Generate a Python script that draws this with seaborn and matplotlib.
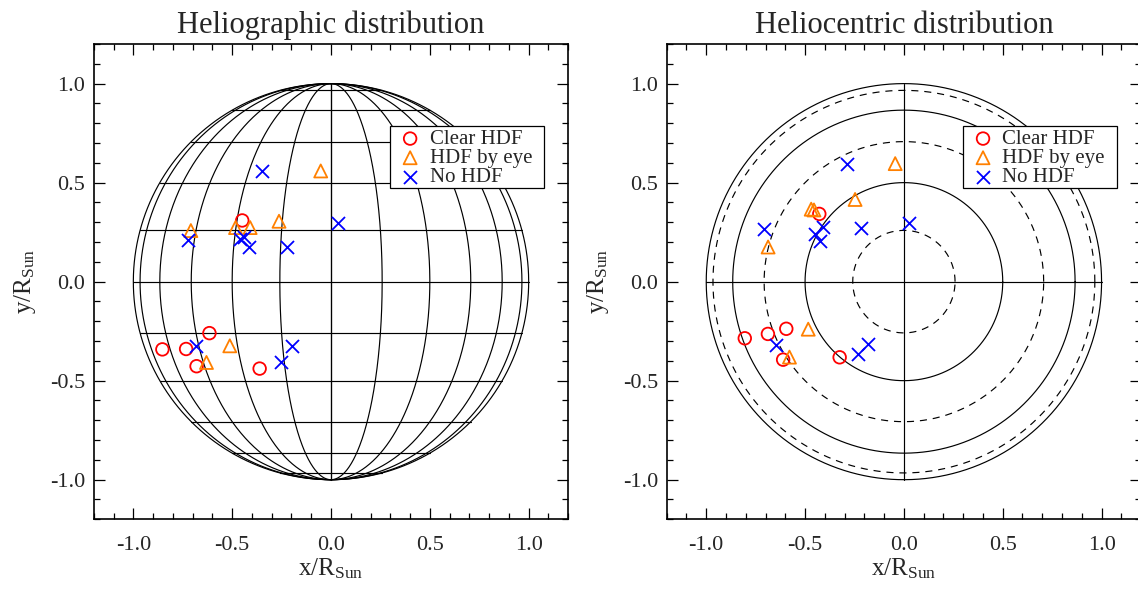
import numpy as np
import pandas as pd
import matplotlib
matplotlib.use("Agg")
import matplotlib.pyplot as plt
import seaborn as sns
from matplotlib.ticker import MultipleLocator
from matplotlib.patches import Rectangle

# ---------------- data ----------------
categories = ["Clear HDF", "HDF by eye", "No HDF"]

# Heliographic panel
hg_clear_x = [-0.853, -0.733, -0.615, -0.680, -0.361, -0.449]
hg_clear_y = [-0.342, -0.340, -0.260, -0.427, -0.439, 0.309]
hg_eye_x = [-0.052, -0.709, -0.483, -0.409, -0.263, -0.512, -0.630]
hg_eye_y = [0.559, 0.258, 0.273, 0.273, 0.305, -0.324, -0.408]
hg_no_x = [-0.350, 0.033, -0.724, -0.462, -0.438, -0.416, -0.221, -0.681, -0.195, -0.254]
hg_no_y = [0.559, 0.294, 0.210, 0.213, 0.225, 0.174, 0.176, -0.324, -0.324, -0.408]

# Heliocentric panel
hc_clear_x = [-0.805, -0.688, -0.595, -0.611, -0.325, -0.428]
hc_clear_y = [-0.286, -0.264, -0.238, -0.394, -0.382, 0.342]
hc_eye_x = [-0.044, -0.247, -0.469, -0.455, -0.687, -0.484, -0.579]
hc_eye_y = [0.596, 0.415, 0.366, 0.362, 0.175, -0.240, -0.381]
hc_no_x = [-0.287, 0.027, -0.709, -0.216, -0.411, -0.450, -0.423, -0.645, -0.183, -0.230]
hc_no_y = [0.596, 0.294, 0.268, 0.269, 0.276, 0.239, 0.203, -0.318, -0.316, -0.367]

titles = ["Heliographic distribution", "Heliocentric distribution"]
tick_values = [-1.0, -0.5, 0.0, 0.5, 1.0]
tick_labels = ["-1.0", "-0.5", "0.0", "0.5", "1.0"]
grid_angles_deg = [-90, -75, -60, -45, -30, -15, 0, 15, 30, 45, 60, 75, 90]
ring_angles_deg = [15, 30, 45, 60, 75, 90]

# ---------------- style ----------------
sns.set_theme(style="white")
plt.rcParams["font.family"] = ["Liberation Serif", "DejaVu Serif"]
plt.rcParams["mathtext.fontset"] = "custom"
plt.rcParams["mathtext.rm"] = "Liberation Serif"
plt.rcParams["mathtext.it"] = "Liberation Serif:italic"

colors = {"Clear HDF": "#ff0000", "HDF by eye": "#ff8000", "No HDF": "#0000ff"}
markers = {"Clear HDF": "o", "HDF by eye": "^", "No HDF": "x"}
sizes = {"Clear HDF": 82, "HDF by eye": 88, "No HDF": 88}

W, H = 1138, 591
fig = plt.figure(figsize=(W / 100, H / 100), dpi=100)
ax1 = fig.add_axes([93.8 / W, 1 - 519.3 / H, 474.4 / W, 475.3 / H])
ax2 = fig.add_axes([666.7 / W, 1 - 519.3 / H, 474.4 / W, 475.3 / H])

lw_grid = 0.85
t = np.linspace(-np.pi / 2, np.pi / 2, 400)

# heliographic grid
for a in grid_angles_deg:
    lon = np.radians(a)
    ax1.plot(np.cos(t) * np.sin(lon), np.sin(t), color="black", lw=lw_grid, zorder=1)
    lat = np.radians(a)
    if abs(a) < 90:
        c = np.cos(lat)
        ax1.plot([-c, c], [np.sin(lat), np.sin(lat)], color="black", lw=lw_grid, zorder=1)
ax1.plot([0, 0], [-1, 1], color="black", lw=lw_grid, zorder=1)

# heliocentric rings
phi = np.linspace(0, 2 * np.pi, 720)
for a in ring_angles_deg:
    r = np.sin(np.radians(a))
    ls = "-" if a % 30 == 0 else (0, (6, 5))
    ax2.plot(r * np.cos(phi), r * np.sin(phi), color="black", lw=lw_grid, ls=ls, zorder=1)
ax2.plot([-1, 1], [0, 0], color="black", lw=lw_grid, zorder=1)
ax2.plot([0, 0], [-1, 1], color="black", lw=lw_grid, zorder=1)

panels = [
    (ax1, [(hg_clear_x, hg_clear_y), (hg_eye_x, hg_eye_y), (hg_no_x, hg_no_y)]),
    (ax2, [(hc_clear_x, hc_clear_y), (hc_eye_x, hc_eye_y), (hc_no_x, hc_no_y)]),
]

legends = []
for (ax, sets), title in zip(panels, titles):
    for cat, (xs, ys) in zip(categories, sets):
        df = pd.DataFrame({"x": xs, "y": ys})
        sns.scatterplot(data=df, x="x", y="y", ax=ax, marker=markers[cat],
                        s=sizes[cat], color=colors[cat], label=cat, zorder=3)
        coll = ax.collections[-1]
        if markers[cat] != "x":
            coll.set_facecolor("none")
        coll.set_edgecolor(colors[cat])
        coll.set_linewidth(1.3)
    ax.set_xlim(-1.2, 1.2)
    ax.set_ylim(-1.2, 1.2)
    ax.set_xticks(tick_values)
    ax.set_xticklabels(tick_labels)
    ax.set_yticks(tick_values)
    ax.set_yticklabels(tick_labels)
    ax.xaxis.set_minor_locator(MultipleLocator(0.1))
    ax.yaxis.set_minor_locator(MultipleLocator(0.1))
    ax.tick_params(which="both", direction="in", top=True, right=True,
                   bottom=True, left=True, color="black", width=0.9)
    ax.tick_params(which="major", length=8)
    ax.tick_params(which="minor", length=4)
    ax.tick_params(axis="x", which="major", labelsize=16, pad=12)
    ax.tick_params(axis="y", which="major", labelsize=16, pad=6)
    for sp in ax.spines.values():
        sp.set_visible(True)
        sp.set_color("black")
        sp.set_linewidth(1.2)
    ax.set_title(title, fontsize=22, pad=8)
    ax.set_xlabel(r"x/R$_{\mathrm{Sun}}$", fontsize=18, labelpad=1)
    ax.set_ylabel(r"y/R$_{\mathrm{Sun}}$", fontsize=18, labelpad=9)
    leg = ax.legend(loc="upper right", bbox_to_anchor=(0.9237, 0.8202),
                    borderaxespad=0, fontsize=15, frameon=False,
                    handletextpad=0.08, labelspacing=-0.02, borderpad=0.0,
                    handlelength=1.7)
    leg.set_zorder(6)
    legends.append((ax, leg))
    ax.set_facecolor("white")

# legend frame with the reference's uneven margins
fig.canvas.draw()
renderer = fig.canvas.get_renderer()
for ax, leg in legends:
    bb = leg.get_window_extent(renderer)
    inv = ax.transAxes.inverted()
    (x0, y0) = inv.transform((bb.x0 - 2, bb.y0 - 0.5))
    (x1, y1) = inv.transform((bb.x1 + 12, bb.y1 + 3))
    ax.add_patch(Rectangle((x0, y0), x1 - x0, y1 - y0, transform=ax.transAxes,
                           facecolor="white", edgecolor="black", lw=0.9,
                           zorder=5, clip_on=False))

fig.savefig("out.png", dpi=100, facecolor="white")
